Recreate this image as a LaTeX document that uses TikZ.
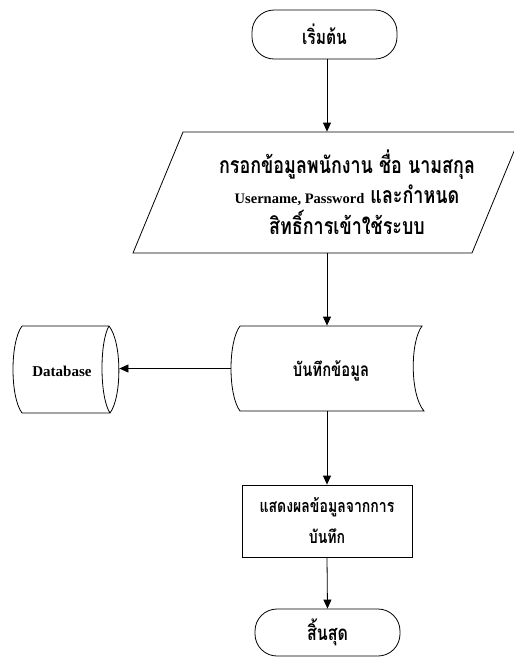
\documentclass[tikz,border=0pt]{standalone}
\usepackage{fontspec}
\setmainfont{Liberation Serif}
\newfontfamily\thai[Script=Thai,FakeStretch=0.78]{Loma}
\usetikzlibrary{arrows.meta}
\begin{document}
\begin{tikzpicture}[x=1pt,y=-1pt,line width=0.8pt,
  flow/.style={-{Triangle[length=9pt,width=8pt]}},
  term/.style={draw,rounded corners=22pt,inner sep=0pt},
  frame/.style={draw=none,inner sep=0pt},
  thaitxt/.style={font=\thai\bfseries\fontsize{#1}{31}\selectfont,align=center,inner sep=0pt},
  thaitxt/.default=19,
  lattxt/.style={font=\bfseries\fontsize{15}{31}\selectfont,inner sep=0pt}]
\useasboundingbox (0,0) rectangle (514,657);
\clip (0,0) rectangle (514,657);

% start terminal
\node[term,minimum width=145pt,minimum height=49pt,thaitxt=20] (start) at (324.5,34.5) {เริ่มต้น};

% input parallelogram
\node[frame,minimum width=290pt,minimum height=121pt] (input) at (327,192.5) {};
\draw (133,253) -- (183,132) -- (522,132) -- (472,253) -- cycle;
\node[thaitxt=23, font=\thai\bfseries\fontsize{23}{30.5}\selectfont] (inputtxt) at (347,192)
  {กรอกข้อมูลพนักงาน ชื่อ นามสกุล\\
   {\normalfont\bfseries\fontsize{14.5}{30.5}\selectfont Username, Password} และกำหนด\\
   สิทธิ์การเข้าใช้ระบบ};

% stored data
\node[frame,minimum width=192pt,minimum height=85pt] (store) at (327,368.5) {};
\draw (240,326) -- (422,326) .. controls (410,342) and (410,395) .. (424,411)
  -- (240,411) .. controls (228,395) and (228,342) .. (240,326);
\node[thaitxt=19] (storetxt) at (331,371) {บันทึกข้อมูล};

% database
\node[frame,minimum width=106pt,minimum height=87pt] (db) at (66,369.5) {};
\draw (22,326) -- (109,326) .. controls (122,342) and (122,397) .. (110,413)
  -- (22,413) .. controls (10,397) and (10,342) .. (22,326);
\draw (109,326) .. controls (99.5,342) and (99.5,397) .. (110,413);
\node[lattxt] (dbtxt) at (62,371) {Database};

% display process
\node[draw,minimum width=170pt,minimum height=72pt,thaitxt=18] (proc) at (327,521)
  {แสดงผลข้อมูลจากการ\\บันทึก};

% end terminal
\node[term,minimum width=145pt,minimum height=47pt,thaitxt=20.5] (stop) at (327.5,632.5) {สิ้นสุด};

% connectors
\draw[flow] (start.south -| input.north) -- (input.north);
\draw[flow] (input.south) -- (store.north);
\draw[flow] (store.west) -- (store.west -| db.east);
\draw[flow] (store.south) -- (proc.north);
\draw[flow] (proc.south) -- (stop.north);
\end{tikzpicture}
\end{document}
